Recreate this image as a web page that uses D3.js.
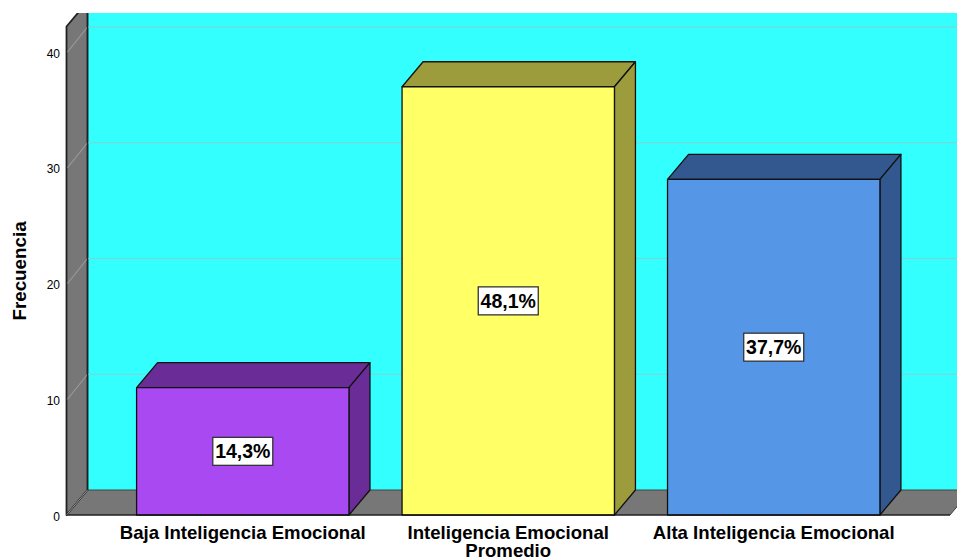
<!DOCTYPE html>
<html>
<head>
<meta charset="utf-8">
<script src="https://cdn.jsdelivr.net/npm/d3@7"></script>
<style>
html, body { margin: 0; padding: 0; background: #fff; }
svg { display: block; }
text { font-family: "Liberation Sans", Arial, sans-serif; fill: #000; }
</style>
</head>
<body>
<div id="chart"></div>
<script>
// the data
var categories = ["Baja Inteligencia Emocional", "Inteligencia Emocional Promedio", "Alta Inteligencia Emocional"];
var counts = [11, 37, 29];
var percents = ["14,3%", "48,1%", "37,7%"];
var yTicks = [0, 10, 20, 30, 40];
var frontColors = ["#a949f2", "#ffff66", "#5596e6"];
var topColors = ["#6a2c96", "#9c9c3d", "#33588f"];

var width = 957, height = 560;
var dx = 21, dy = -25; // depth of the 3d box

var x = d3.scaleBand().domain(categories).range([66.5, 950]).paddingInner(0.2).paddingOuter(0.264);
var y = d3.scaleLinear().domain([0, 40]).range([515, 52]);
var yTop = 42.2;

var svg = d3.select("#chart").append("svg")
    .attr("width", width)
    .attr("height", height);

svg.append("clipPath").attr("id", "plot-clip")
  .append("rect").attr("x", 0).attr("y", 13).attr("width", width).attr("height", height - 13);

var plot = svg.append("g").attr("clip-path", "url(#plot-clip)");

var line = d3.line();
function poly(g, pts, fill, stroke, sw) {
    return g.append("path")
        .attr("d", line(pts) + "Z")
        .attr("fill", fill)
        .attr("stroke", stroke)
        .attr("stroke-width", sw)
        .attr("stroke-linejoin", "round");
}

var x0 = x.range()[0], x1 = x.range()[1];

// back wall
plot.append("rect")
    .attr("x", x0 + dx).attr("y", y(yTop) + dy)
    .attr("width", x1 - x0).attr("height", y(0) - y(yTop))
    .attr("fill", "#33ffff");

// left wall and floor
poly(plot, [[x0, y(0)], [x0 + dx, y(0) + dy], [x1 + dx, y(0) + dy], [x1, y(0)]], "#777777", "#444444", 1);
poly(plot, [[x0, y(0)], [x0, y(yTop)], [x0 + dx, y(yTop) + dy], [x0 + dx, y(0) + dy]], "#777777", "#222222", 1.8);

// grid lines run along the wall and the back
yTicks.filter(function(d) { return d > 0; }).forEach(function(d) {
    plot.append("line")
        .attr("x1", x0 + 1).attr("y1", y(d))
        .attr("x2", x0 + dx).attr("y2", y(d) + dy)
        .attr("stroke", "#9a9a9a").attr("stroke-width", 1.2);
    plot.append("line")
        .attr("x1", x0 + dx).attr("y1", y(d) + dy)
        .attr("x2", width).attr("y2", y(d) + dy)
        .attr("stroke", "#85cfcf").attr("stroke-width", 1.2);
});
plot.append("line")
    .attr("x1", x0 + dx).attr("x2", x0 + dx)
    .attr("y1", y(yTop) + dy).attr("y2", y(0) + dy)
    .attr("stroke", "#222222").attr("stroke-width", 1.2);
plot.append("line")
    .attr("x1", x0).attr("x2", x0 + dx)
    .attr("y1", y(0)).attr("y2", y(0) + dy)
    .attr("stroke", "#999999").attr("stroke-width", 1);

// bars
categories.forEach(function(c, i) {
    var bx = x(c), bw = x.bandwidth(), by = y(counts[i]), b0 = y(0);
    var g = plot.append("g");
    poly(g, [[bx, by], [bx + dx, by + dy], [bx + bw + dx, by + dy], [bx + bw, by]], topColors[i], "#111111", 1.3);
    poly(g, [[bx + bw, by], [bx + bw + dx, by + dy], [bx + bw + dx, b0 + dy], [bx + bw, b0]], topColors[i], "#111111", 1.3);
    poly(g, [[bx, by], [bx + bw, by], [bx + bw, b0], [bx, b0]], frontColors[i], "#111111", 1.3);
});

// base line of the axis
svg.append("line")
    .attr("x1", x0).attr("x2", x1)
    .attr("y1", y(0)).attr("y2", y(0))
    .attr("stroke", "#111111").attr("stroke-width", 1.2);

// percent labels
var labelW = 60, labelH = 28;
categories.forEach(function(c, i) {
    var cx = x(c) + x.bandwidth() / 2, cy = (y(counts[i]) + y(0)) / 2;
    svg.append("rect")
        .attr("x", cx - labelW / 2).attr("y", cy - labelH / 2)
        .attr("width", labelW).attr("height", labelH)
        .attr("fill", "#fff").attr("stroke", "#333333").attr("stroke-width", 1.3);
    svg.append("text")
        .attr("x", cx).attr("y", cy + 7)
        .attr("text-anchor", "middle")
        .attr("font-size", 19.5)
        .attr("font-weight", "bold")
        .text(percents[i]);
});

// y tick labels
svg.selectAll(".ytick").data(yTicks).enter().append("text")
    .attr("class", "ytick")
    .attr("x", 60)
    .attr("y", function(d) { return y(d) + 5.5; })
    .attr("text-anchor", "end")
    .attr("font-size", 12)
    .attr("fill", "#222")
    .text(function(d) { return d; });

// y title
svg.append("text")
    .attr("transform", "translate(26,271) rotate(-90)")
    .attr("text-anchor", "middle")
    .attr("font-size", 18.8)
    .attr("font-weight", "bold")
    .text("Frecuencia");

// x labels, the long one wraps on two lines
var xLabelLines = [["Baja Inteligencia Emocional"], ["Inteligencia Emocional", "Promedio"], ["Alta Inteligencia Emocional"]];
categories.forEach(function(c, i) {
    var t = svg.append("text")
        .attr("y", 539)
        .attr("text-anchor", "middle")
        .attr("font-size", 18.6)
        .attr("font-weight", "bold");
    xLabelLines[i].forEach(function(s, j) {
        t.append("tspan")
            .attr("x", x(c) + x.bandwidth() / 2)
            .attr("dy", j == 0 ? 0 : 18)
            .text(s);
    });
});
</script>
</body>
</html>
